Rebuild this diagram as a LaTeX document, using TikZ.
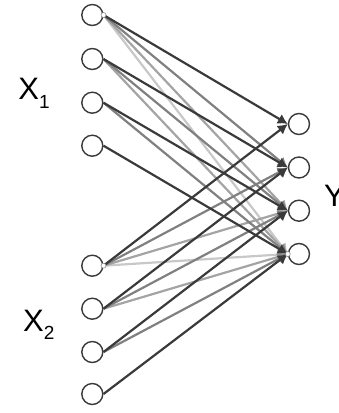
\documentclass[tikz,border=0pt]{standalone}
\usepackage{fontspec}
\setmainfont{Liberation Sans}
\usetikzlibrary{arrows.meta}
\definecolor{dk}{HTML}{3A3A3A}
\definecolor{ga}{HTML}{808080}
\definecolor{gb}{HTML}{A4A4A4}
\definecolor{gc}{HTML}{C8C8C8}
\begin{document}
\begin{tikzpicture}[x=1pt,y=-1pt,
  neuron/.style={circle,draw=dk,line width=1.4pt,fill=white,minimum size=21pt,inner sep=0pt},
  link/.style={line width=2.2pt,-{Latex[length=10pt,width=11pt]}},
  handle/.style={circle,draw=gray,line width=0.5pt,fill=white,minimum size=5pt,inner sep=0pt},
  lbl/.style={anchor=base west,inner sep=0pt,font=\fontsize{31}{31}\selectfont}]
\useasboundingbox (0,0) rectangle (339,413);
% left neurons
\foreach \i/\y in {1/15,2/59,3/102.7,4/145.7,5/265.7,6/308.7,7/352,8/394}
  \node[neuron] (a\i) at (92.3,\y) {};
% right neurons
\foreach \j/\y in {1/124,2/167.5,3/210.7,4/254}
  \node[neuron] (b\j) at (299,\y) {};
% connections
\foreach \i/\j in {1/4,5/4}
  \draw[link,gc] (a\i.east) -- (b\j.west);
\foreach \i/\j in {1/3,2/4,5/3,6/4}
  \draw[link,gb] (a\i.east) -- (b\j.west);
\foreach \i/\j in {1/2,2/3,3/4,5/2,6/3,7/4}
  \draw[link,ga] (a\i.east) -- (b\j.west);
\foreach \i/\j in {1/1,2/2,3/3,4/4,5/1,6/2,7/3,8/4}
  \draw[link,dk] (a\i.east) -- (b\j.west);
% selection handles
\node[handle] (h1) at (a1.east) {};
\node[handle] (h2) at (a5.east) {};
\node[handle] (h3) at (b4.west) {};
% labels
\node[lbl] (x1) at (18.3,99.5) {X\raisebox{-8.5pt}{\fontsize{19}{19}\selectfont 1}};
\node[lbl] (x2) at (23,331) {X\raisebox{-8.5pt}{\fontsize{19}{19}\selectfont 2}};
\node[lbl] (y) at (324,206.5) {Y};
\end{tikzpicture}
\end{document}
